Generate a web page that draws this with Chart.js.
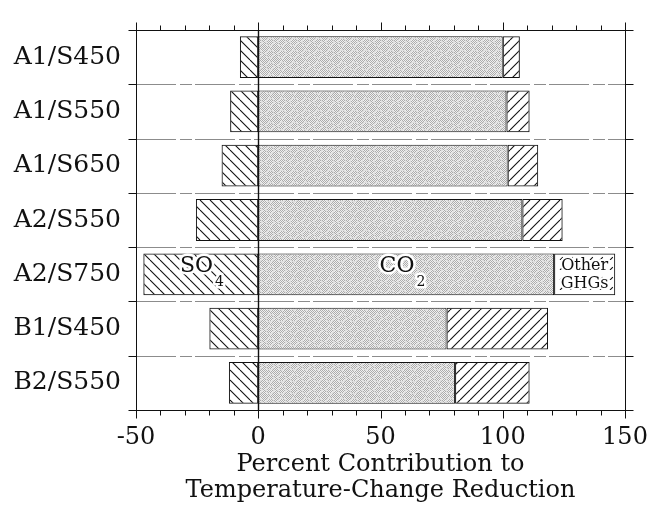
<!DOCTYPE html>
<html>
<head>
<meta charset="utf-8">
<script src="https://cdn.jsdelivr.net/npm/chart.js@4/dist/chart.umd.min.js"></script>
<style>
  html, body { margin: 0; padding: 0; background: #fff; }
  #wrap { width: 669px; height: 506px; }
</style>
</head>
<body>
<div id="wrap"><canvas id="c" width="669" height="506"></canvas></div>
<script>
// Scenarios and the contribution (%) of each forcing agent to the reduction
const scenarios = ['A1/S450', 'A1/S550', 'A1/S650', 'A2/S550', 'A2/S750', 'B1/S450', 'B2/S550'];
const sulfate = [-7.5, -11.5, -15, -25.5, -47, -20, -12];
const carbonDioxide = [100, 101.5, 102, 108, 121, 77, 80.5];
const otherGases = [7, 9.5, 12.5, 16.5, 25, 41.5, 30.5];
const axisTitle = ['Percent Contribution to', 'Temperature-Change Reduction'];

const SERIF = 'DejaVu Serif';
const INK = '#111';

// --- fill patterns ---------------------------------------------------------
function hatch(direction, dashed) {
  const s = 10;
  const c = document.createElement('canvas');
  c.width = c.height = s;
  const g = c.getContext('2d');
  g.strokeStyle = INK;
  g.lineWidth = 1.1;
  if (dashed) g.setLineDash([4, 10.14]);
  for (let k = -1; k <= 1; k++) {
    g.beginPath();
    if (direction === 'back') {       // "\" lines
      g.moveTo(k * s, 0);
      g.lineTo(k * s + s, s);
    } else {                          // "/" lines
      g.moveTo(k * s, s);
      g.lineTo(k * s + s, 0);
    }
    g.stroke();
  }
  return g.createPattern(c, 'repeat');
}

function stipple() {
  const s = 12;
  const c = document.createElement('canvas');
  c.width = c.height = s;
  const g = c.getContext('2d');
  const img = g.createImageData(s, s);
  for (let y = 0; y < s; y++) {
    for (let x = 0; x < s; x++) {
      const dx = x - 5.5, dy = y - 5.5;
      const r = Math.sqrt(dx * dx + dy * dy);
      let v = ((x + y) % 2 === 0) ? 172 : 240;
      if (Math.abs(r - 4) < 0.7) v = 222;
      const i = (y * s + x) * 4;
      img.data[i] = img.data[i + 1] = img.data[i + 2] = v;
      img.data[i + 3] = 255;
    }
  }
  g.putImageData(img, 0, 0);
  return g.createPattern(c, 'repeat');
}

const backHatch = hatch('back', false);
const fwdHatch = hatch('fwd', false);
const fwdDashed = hatch('fwd', true);
const dotFill = stipple();

// --- frame, grid, ticks and in-bar labels ---------------------------------
const decorations = {
  id: 'decorations',
  beforeDatasetsDraw(chart) {
    const { ctx, chartArea: a, scales: { y } } = chart;
    ctx.save();
    ctx.strokeStyle = '#8c8c8c';
    ctx.lineWidth = 1;
    ctx.setLineDash([40, 4, 12, 3]);
    for (let i = 1; i < scenarios.length; i++) {
      const py = Math.round((y.getPixelForValue(i - 1) + y.getPixelForValue(i)) / 2) + 0.5;
      ctx.beginPath();
      ctx.moveTo(a.left, py);
      ctx.lineTo(a.right, py);
      ctx.stroke();
    }
    ctx.restore();
  },
  afterDatasetsDraw(chart) {
    const { ctx, chartArea: a, scales: { x, y } } = chart;
    ctx.save();
    // zero line
    const x0 = Math.round(x.getPixelForValue(0)) + 0.5;
    ctx.strokeStyle = INK;
    ctx.lineWidth = 1.4;
    ctx.beginPath();
    ctx.moveTo(x0, a.top);
    ctx.lineTo(x0, a.bottom);
    ctx.stroke();

    // labels inside the A2/S750 bar
    const row = y.getPixelForValue(4);
    const label = (txt, sub, xv, size, subSize) => {
      ctx.font = `${size}px "${SERIF}"`;
      const w = ctx.measureText(txt).width;
      ctx.font = `${subSize}px "${SERIF}"`;
      const ws = ctx.measureText(sub).width;
      const left = x.getPixelForValue(xv) - (w + ws + 2) / 2;
      ctx.lineJoin = 'round';
      ctx.textBaseline = 'middle';
      ctx.textAlign = 'left';
      ctx.strokeStyle = '#fff';
      ctx.fillStyle = INK;
      ctx.lineWidth = 5;
      ctx.font = `${size}px "${SERIF}"`;
      ctx.strokeText(txt, left, row - 8);
      ctx.fillText(txt, left, row - 8);
      ctx.font = `${subSize}px "${SERIF}"`;
      ctx.strokeText(sub, left + w + 2, row + 8);
      ctx.fillText(sub, left + w + 2, row + 8);
    };
    label('SO', '4', -23, 22, 14);
    label('CO', '2', 59, 22, 14);

    ctx.font = `16px "${SERIF}"`;
    ctx.textAlign = 'center';
    ctx.textBaseline = 'middle';
    ctx.strokeStyle = '#fff';
    ctx.lineWidth = 4;
    const cx = x.getPixelForValue(133.5);
    ctx.strokeText('Other', cx, row - 8);
    ctx.fillText('Other', cx, row - 8);
    ctx.strokeText('GHGs', cx, row + 10);
    ctx.fillText('GHGs', cx, row + 10);
    ctx.restore();
  },
  afterDraw(chart) {
    const { ctx, chartArea: a, scales: { x, y } } = chart;
    ctx.save();
    ctx.strokeStyle = INK;
    ctx.lineWidth = 1;
    const L = Math.round(a.left) + 0.5, R = Math.round(a.right) + 0.5;
    const T = Math.round(a.top) + 0.5, B = Math.round(a.bottom) + 0.5;
    ctx.strokeRect(L, T, R - L, B - T);

    // outward ticks on top and bottom, every 10 with longer ones every 50
    ctx.beginPath();
    for (let v = -50; v <= 150; v += 10) {
      const px = Math.round(x.getPixelForValue(v)) + 0.5;
      const major = v % 50 === 0;
      ctx.moveTo(px, T);
      ctx.lineTo(px, T - (major ? 8 : 5));
      ctx.moveTo(px, B);
      ctx.lineTo(px, B + (major ? 8 : 5));
    }
    // outward ticks on left and right at category boundaries
    for (let i = 0; i <= scenarios.length; i++) {
      const py = i === 0 ? T : i === scenarios.length ? B
        : Math.round((y.getPixelForValue(i - 1) + y.getPixelForValue(i)) / 2) + 0.5;
      ctx.moveTo(L, py);
      ctx.lineTo(L - 8, py);
      ctx.moveTo(R, py);
      ctx.lineTo(R + 8, py);
    }
    ctx.stroke();
    ctx.restore();
  }
};

const common = {
  borderColor: INK,
  borderWidth: 1,
  borderSkipped: false,
  barPercentage: 0.77,
  categoryPercentage: 1.0
};

new Chart(document.getElementById('c'), {
  type: 'bar',
  data: {
    labels: scenarios,
    datasets: [
      Object.assign({ label: 'SO4', data: sulfate, backgroundColor: backHatch }, common),
      Object.assign({ label: 'CO2', data: carbonDioxide, backgroundColor: dotFill }, common),
      Object.assign({
        label: 'Other GHGs', data: otherGases,
        backgroundColor: (c) => c.dataIndex === 4 ? fwdDashed : fwdHatch
      }, common)
    ]
  },
  options: {
    indexAxis: 'y',
    responsive: false,
    devicePixelRatio: 1,
    animation: false,
    layout: { padding: { top: 17, right: 44, left: 0, bottom: 0 } },
    plugins: { legend: { display: false }, tooltip: { enabled: false } },
    scales: {
      x: {
        type: 'linear',
        stacked: true,
        min: -50,
        max: 150,
        grid: { display: false, drawTicks: false },
        border: { display: false },
        ticks: {
          stepSize: 50,
          padding: 13,
          maxRotation: 0,
          color: INK,
          font: { family: SERIF, size: 24 }
        },
        title: {
          display: true,
          text: axisTitle,
          color: INK,
          font: { family: SERIF, size: 24, lineHeight: 1.05 },
          padding: { top: 0, bottom: 3 }
        },
        afterFit(s) { s.height = 96; }
      },
      y: {
        type: 'category',
        stacked: true,
        grid: { display: false, drawTicks: false },
        border: { display: false },
        ticks: {
          padding: 15,
          color: INK,
          font: { family: SERIF, size: 25 }
        },
        afterFit(s) { s.width = 136; }
      }
    }
  },
  plugins: [decorations]
});
</script>
</body>
</html>
